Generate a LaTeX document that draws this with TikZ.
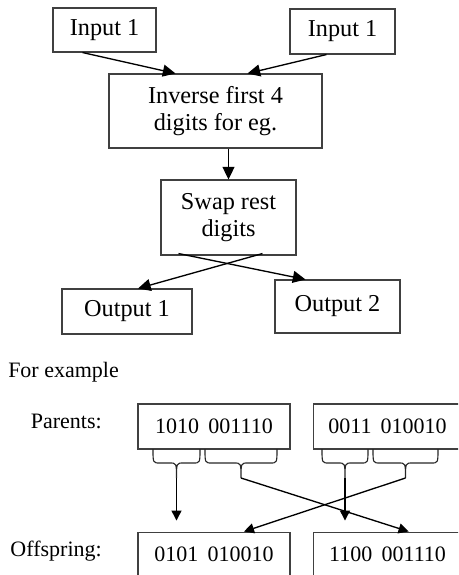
\documentclass[tikz,border=0pt]{standalone}
\usepackage{fontspec}
\setmainfont{Liberation Serif}
\usetikzlibrary{positioning, arrows.meta, calc}

\begin{document}
\begin{tikzpicture}[
  x=0.75pt, y=-0.75pt,
  box/.style={draw=black!75, line width=0.8pt, inner sep=0pt, align=center,
              font=\fontsize{18.2pt}{20.5pt}\selectfont},
  bitbox/.style={box, minimum width=114pt, minimum height=33.75pt,
              font=\fontsize{16.5pt}{19pt}\selectfont},
  arr/.style={line width=1pt, -{Triangle[length=9.5pt,width=9pt]}},
  sarr/.style={line width=1pt, -{Triangle[length=7.5pt,width=7.5pt]}},
  lbl/.style={inner sep=0pt, font=\fontsize{16.5pt}{19pt}\selectfont}
]
\useasboundingbox (0,0) rectangle (458,575);
\clip (0,0) rectangle (458,575);

% upper flow
\node (in1)  [box, minimum width=77.25pt, minimum height=33pt]   at (104.5,30)  {Input 1};
\node (in2)  [box, minimum width=78.75pt, minimum height=33.75pt] at (342.5,31.5) {Input 1};
\node (inv)  [box, minimum width=159.75pt, minimum height=55.5pt] at (215.5,111) {Inverse first 4\\digits for eg.};
\node (swap) [box, minimum width=101.25pt, minimum height=56.25pt] at (228.5,217.5) {Swap rest\\digits};
\node (out1) [box, minimum width=97.5pt, minimum height=33.75pt]  at (127,311.5) {Output 1};
\node (out2) [box, minimum width=93.75pt, minimum height=39.75pt] at (337.5,306.5) {Output 2};

\draw[arr] ($(in1.south)+(-22,0)$) -- ($(inv.north)+(-40,0)$);
\draw[arr] ($(in2.south)+(-16,0)$) -- ($(inv.north)+(32,0)$);
\draw[arr] (inv.south -| swap.north) -- (swap.north);
\draw[arr] ($(swap.south)+(-50,-2)$) -- ($(out2.north)+(-32,0)$);
\draw[arr] ($(swap.south)+(34,-2)$) -- ($(out1.north)+(11,0)$);

% example
\node (ex) [lbl, anchor=base west] at (8,377) {For example};
\node (par) [lbl, anchor=base east] at (102,428) {Parents:};
\node (off) [lbl, anchor=base east] at (102,556) {Offspring:};

\node (p1) [bitbox] at (214,426.5) {1010\, 001110};
\node (p2) [bitbox, minimum width=111.75pt, right=16.5pt of p1] {0011\, 010010};
\node (o1) [bitbox, below=61.5pt of p1] {0101\, 010010};
\node (o2) [bitbox, minimum width=111.75pt, right=16.5pt of o1] {1100\, 001110};

% braces under the parents
\foreach \xa/\xb/\nm in {153/200/ba, 205/277/bb, 322/368/bc, 373/438/bd} {
  \pgfmathsetmacro\xm{(\xa+\xb)/2}
  \draw[black!85, line width=0.85pt]
    (\xa,449) .. controls (\xa,463) .. (\xa+7,463) -- (\xm-7,463)
    .. controls (\xm,463) .. (\xm,478) .. controls (\xm,463) .. (\xm+7,463)
    -- (\xb-7,463) .. controls (\xb,463) .. (\xb,449);
  \coordinate (\nm) at (\xm,478);
}

\draw[sarr, shorten >=8.25pt] (ba) -- (ba |- o1.north);
\draw[sarr] (bb) -- ($(o2.north)+(21,0)$);
\draw[sarr, shorten >=8.25pt] (bc) -- (bc |- o2.north);
\draw[sarr] (bd) -- ($(o1.north)+(30,0)$);
\end{tikzpicture}
\end{document}
